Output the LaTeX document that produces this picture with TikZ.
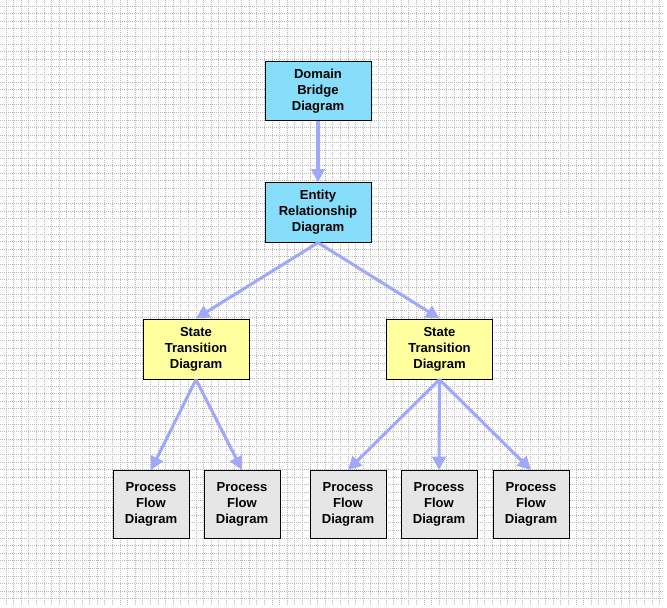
\documentclass[tikz,border=0pt]{standalone}
\usepackage{fontspec}
\setmainfont{Liberation Sans}
\usetikzlibrary{arrows.meta}
\definecolor{gridc}{RGB}{185,185,185}
\definecolor{cyanbox}{RGB}{135,222,250}
\definecolor{yelbox}{RGB}{255,255,160}
\definecolor{graybox}{RGB}{230,230,230}
\definecolor{arrowc}{RGB}{160,168,248}
\tikzset{
  px/.style={x=0.75pt,y=-0.75pt},
  diagbox/.style={draw=black,line width=0.75pt,align=center,inner sep=0pt,
    font=\fontsize{9.8pt}{12pt}\selectfont\bfseries},
  topbox/.style={diagbox,fill=cyanbox,minimum width=79.5pt,minimum height=44.5pt},
  statebox/.style={diagbox,fill=yelbox,minimum width=79.5pt,minimum height=45pt},
  procbox/.style={diagbox,fill=graybox,minimum width=57pt,minimum height=51pt},
  link/.style={draw=arrowc,line width=2.3pt,-{Triangle[length=10pt,width=10pt]}},
  gridline/.style={draw=gridc,line width=0.75pt,dash pattern=on 0.75pt off 0.75pt}
}
\begin{document}
\begin{tikzpicture}[px]
\useasboundingbox (0,0) rectangle (667,607);
\fill[white] (0,0) rectangle (667,607);
\foreach \k in {0,...,86} {
  \draw[gridline] ({6+7.6*\k},0) -- ({6+7.6*\k},606);
}
\foreach \k in {0,...,78} {
  \draw[gridline] (0,{6+7.6*\k}) -- (663,{6+7.6*\k});
}
\node[topbox] (dbd) at (318,91) {Domain\\Bridge\\Diagram};
\node[topbox] (erd) at (318,212.5) {Entity\\Relationship\\Diagram};
\node[statebox] (st1) at (196,349) {State\\Transition\\Diagram};
\node[statebox] (st2) at (439.5,349) {State\\Transition\\Diagram};
\node[procbox] (p1) at (151,504.5) {Process\\Flow\\Diagram};
\node[procbox] (p2) at (242,504.5) {Process\\Flow\\Diagram};
\node[procbox] (p3) at (348,504.5) {Process\\Flow\\Diagram};
\node[procbox] (p4) at (439,504.5) {Process\\Flow\\Diagram};
\node[procbox] (p5) at (531,504.5) {Process\\Flow\\Diagram};
\draw[link] (dbd.south) -- (erd.north);
\draw[link] (erd.south) -- (st1.north);
\draw[link] (erd.south) -- (st2.north);
\draw[link] (st1.south) -- (p1.north);
\draw[link] (st1.south) -- (p2.north);
\draw[link] (st2.south) -- (p3.north);
\draw[link] (st2.south) -- (p4.north);
\draw[link] (st2.south) -- (p5.north);
\end{tikzpicture}
\end{document}
